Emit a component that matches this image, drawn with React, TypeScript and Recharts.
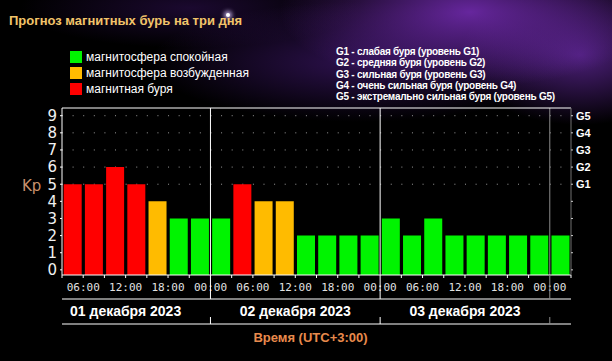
import { Bar, BarChart, CartesianGrid, Cell, ReferenceLine, XAxis, YAxis } from "recharts";

// Kp по трёхчасовым интервалам, начиная с 03:00 01.12 (UTC+3)
const kpValues = [5, 5, 6, 5, 4, 3, 3, 3, 5, 4, 4, 2, 2, 2, 2, 3, 2, 3, 2, 2, 2, 2, 2, 2];
const slotNames = [
  "01.12 03", "01.12 06", "01.12 09", "01.12 12", "01.12 15", "01.12 18", "01.12 21",
  "02.12 00", "02.12 03", "02.12 06", "02.12 09", "02.12 12", "02.12 15", "02.12 18", "02.12 21",
  "03.12 00", "03.12 03", "03.12 06", "03.12 09", "03.12 12", "03.12 15", "03.12 18", "03.12 21",
  "04.12 00",
];

// часы от начала оси
const timeTicks = [0, 3, 6, 9, 12, 15, 18, 21, 24, 27, 30, 33, 36, 39, 42, 45, 48, 51, 54, 57, 60, 63, 66, 69, 72];
const timeTickLabels = [
  "", "06:00", "", "12:00", "", "18:00", "", "00:00", "", "06:00", "", "12:00", "",
  "18:00", "", "00:00", "", "06:00", "", "12:00", "", "18:00", "", "00:00", "",
];
const dayBoundaries = [21, 45, 69];
const dayCenters = [9, 33, 57];
const dayLabels = ["01 декабря 2023", "02 декабря 2023", "03 декабря 2023"];
const dateTicks = [9, 21, 33, 45, 57, 69];

const kpTicks = [0, 1, 2, 3, 4, 5, 6, 7, 8, 9];
const gLabels = ["", "", "", "", "", "G1", "G2", "G3", "G4", "G5"];
const gridLevels = [5, 6, 7, 8, 9];

const legendItems = ["магнитосфера спокойная", "магнитосфера возбужденная", "магнитная буря"];
const gLegend = [
  "G1 - слабая буря (уровень G1)",
  "G2 - средняя буря (уровень G2)",
  "G3 - сильная буря (уровень G3)",
  "G4 - очень сильная буря (уровень G4)",
  "G5 - экстремально сильная буря (уровень G5)",
];

const COLOR_QUIET = "#00f400";
const COLOR_ACTIVE = "#ffbb00";
const COLOR_STORM = "#ff0000";
const legendColors = [COLOR_QUIET, COLOR_ACTIVE, COLOR_STORM];

const KP_MIN = -0.3;
const KP_MAX = 9.45;
const KP_DOMAIN = [KP_MIN, KP_MAX];
const TIME_DOMAIN = [0, 72];

function kpColor(kp: number) {
  if (kp >= 5) return COLOR_STORM;
  if (kp >= 4) return COLOR_ACTIVE;
  return COLOR_QUIET;
}

const data = kpValues.map((kp, i) => ({ slot: slotNames[i], h: i * 3 + 1.5, kp }));

function boundaryColor(h: number) {
  return h === 69 ? "#8c8c8c" : "#ffffff";
}

function TimeTick(props: any) {
  const { x, y, payload } = props;
  const h = payload.value;
  const label = timeTickLabels[timeTicks.indexOf(h)];
  const isBoundary = dayBoundaries.includes(h);
  return (
    <g>
      {label && (
        <text
          x={x}
          y={y + 12}
          textAnchor="middle"
          dominantBaseline="central"
          fill="#e2e2e2"
          fontSize={11}
          fontFamily="DejaVu Sans Mono"
        >
          {label}
        </text>
      )}
      {isBoundary ? (
        <line x1={x} x2={x} y1={y} y2={y + 24} stroke={boundaryColor(h)} />
      ) : (
        <line x1={x} x2={x} y1={y} y2={y + 3} stroke="#ffffff" />
      )}
    </g>
  );
}

function DateTick(props: any) {
  const { x, y, payload } = props;
  const h = payload.value;
  const i = dayCenters.indexOf(h);
  if (i >= 0) {
    return (
      <text
        x={x}
        y={y + 12}
        textAnchor="middle"
        dominantBaseline="central"
        fill="#ffffff"
        fontSize={14}
        fontWeight="bold"
        fontFamily="Liberation Sans"
      >
        {dayLabels[i]}
      </text>
    );
  }
  return <line x1={x} x2={x} y1={y + 18} y2={y + 25} stroke={boundaryColor(h)} />;
}

export default function App() {
  return (
    <div
      style={{
        position: "fixed",
        left: 0,
        top: 0,
        width: 612,
        height: 361,
        overflow: "hidden",
        background:
          "radial-gradient(ellipse 190px 75px at 470px 12px, rgba(120,45,185,0.85), rgba(0,0,0,0) 100%)," +
          "radial-gradient(ellipse 120px 70px at 580px 55px, rgba(110,45,175,0.7), rgba(0,0,0,0) 100%)," +
          "radial-gradient(ellipse 210px 60px at 360px 62px, rgba(75,28,130,0.6), rgba(0,0,0,0) 100%)," +
          "radial-gradient(ellipse 170px 40px at 190px 8px, rgba(60,20,105,0.45), rgba(0,0,0,0) 100%)," +
          "#000",
        fontFamily: "DejaVu Sans",
      }}
    >
      <div
        style={{
          position: "absolute",
          left: 226,
          top: 13,
          width: 4,
          height: 4,
          borderRadius: 2,
          background: "#fff",
          boxShadow: "0 0 4px 2px rgba(220,200,255,0.8)",
        }}
      />
      <div
        style={{
          position: "absolute",
          left: 9,
          top: 13,
          fontFamily: "Liberation Sans",
          fontWeight: "bold",
          fontSize: 13,
          color: "#f2c46a",
          whiteSpace: "nowrap",
        }}
      >
        Прогноз магнитных бурь на три дня
      </div>
      {legendItems.map((t, i) => (
        <div
          key={t}
          style={{ position: "absolute", left: 70, top: 50 + i * 16, height: 14, display: "flex", alignItems: "center" }}
        >
          <div style={{ width: 12, height: 12, background: legendColors[i], marginRight: 4 }} />
          <span style={{ color: "#fff", fontSize: 12, fontFamily: "Liberation Sans", whiteSpace: "nowrap" }}>{t}</span>
        </div>
      ))}
      {gLegend.map((t, i) => (
        <div
          key={t}
          style={{
            position: "absolute",
            left: 336,
            top: 46 + i * 11.3,
            fontFamily: "Liberation Sans",
            fontWeight: "bold",
            fontSize: 10,
            letterSpacing: -0.25,
            lineHeight: "12px",
            color: "#fff",
            whiteSpace: "nowrap",
          }}
        >
          {t}
        </div>
      ))}
      <div style={{ position: "absolute", left: 0, top: 0 }}>
        <BarChart
          width={612}
          height={361}
          data={data}
          margin={{ top: 108, right: 0, bottom: 0, left: 0 }}
          barCategoryGap="8%"
          style={{ fontFamily: "DejaVu Sans" }}
        >
          <CartesianGrid
            xAxisId="x1"
            yAxisId="kp"
            vertical={false}
            horizontalValues={gridLevels}
            stroke="#9a9a9a"
            strokeDasharray="1 9.605"
          />
          <XAxis xAxisId="zcat" dataKey="slot" hide height={0} />
          <XAxis
            xAxisId="x1"
            type="number"
            dataKey="h"
            domain={TIME_DOMAIN}
            allowDataOverflow
            ticks={timeTicks}
            interval={0}
            tick={<TimeTick />}
            tickLine={false}
            tickSize={0}
            tickMargin={0}
            axisLine={{ stroke: "#ffffff" }}
            height={24}
          />
          <XAxis
            xAxisId="x2"
            type="number"
            dataKey="h"
            domain={TIME_DOMAIN}
            allowDataOverflow
            ticks={dateTicks}
            interval={0}
            tick={<DateTick />}
            tickLine={false}
            tickSize={0}
            tickMargin={0}
            axisLine={{ stroke: "#ffffff" }}
            height={25}
          />
          <XAxis
            xAxisId="x3"
            type="number"
            dataKey="h"
            domain={TIME_DOMAIN}
            allowDataOverflow
            tick={false}
            tickLine={false}
            axisLine={{ stroke: "#ffffff" }}
            height={37}
            label={{
              value: "Время (UTC+3:00)",
              position: "insideTop",
              offset: 9,
              dx: -6,
              fill: "#e88a4c",
              fontSize: 13,
              fontWeight: "bold",
              fontFamily: "Liberation Sans",
            }}
          />
          <YAxis
            yAxisId="kp"
            type="number"
            domain={KP_DOMAIN}
            allowDataOverflow
            ticks={kpTicks}
            interval={0}
            width={62}
            tick={{ fill: "#f0f0f0", fontSize: 15 }}
            tickSize={2}
            tickMargin={3}
            tickLine={{ stroke: "#ffffff" }}
            axisLine={{ stroke: "#ffffff" }}
            label={{
              value: "Kp",
              position: "insideLeft",
              offset: 22,
              dy: -6,
              fill: "#c8916c",
              fontSize: 15,
            }}
          />
          <YAxis
            yAxisId="zg"
            orientation="right"
            type="number"
            domain={KP_DOMAIN}
            allowDataOverflow
            ticks={kpTicks}
            interval={0}
            width={41}
            tickFormatter={(v: number) => gLabels[v]}
            tick={{ fill: "#ffffff", fontSize: 11, fontWeight: "bold", fontFamily: "Liberation Sans" }}
            tickSize={2}
            tickMargin={3}
            tickLine={{ stroke: "#cccccc" }}
            axisLine={{ stroke: "#707070" }}
          />
          <Bar
            xAxisId="zcat"
            yAxisId="kp"
            dataKey={(d: { kp: number }) => [KP_MIN, d.kp]}
            isAnimationActive={false}
          >
            {data.map((d, i) => (
              <Cell key={i} fill={kpColor(d.kp)} />
            ))}
          </Bar>
          {dayBoundaries.map((h) => (
            <ReferenceLine key={h} xAxisId="x1" yAxisId="kp" x={h} stroke={boundaryColor(h)} />
          ))}
          <ReferenceLine xAxisId="x1" yAxisId="kp" y={KP_MAX} stroke="#ffffff" />
        </BarChart>
      </div>
    </div>
  );
}
